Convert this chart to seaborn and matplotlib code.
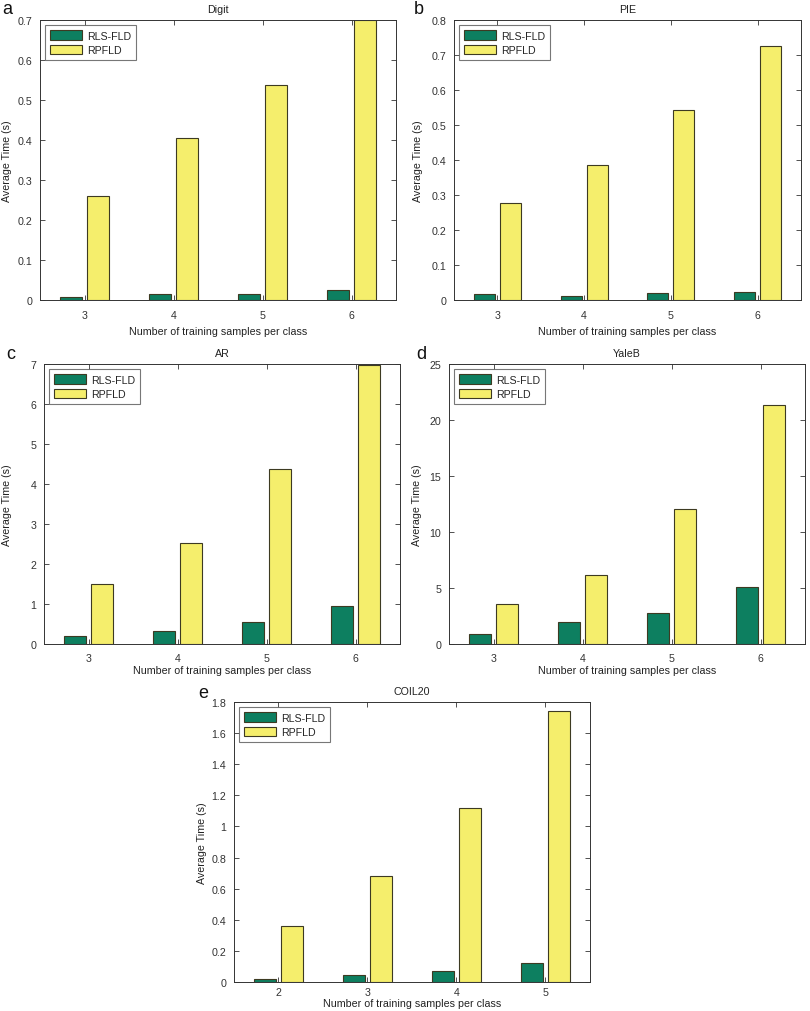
import matplotlib
matplotlib.use("Agg")
import matplotlib.pyplot as plt
import pandas as pd
import seaborn as sns
from matplotlib.ticker import FuncFormatter, MultipleLocator

methods = ["RLS-FLD", "RPFLD"]
titles = ["Digit", "PIE", "AR", "YaleB", "COIL20"]
letters = ["a", "b", "c", "d", "e"]

samples_abcd = ["3", "4", "5", "6"]
samples_e = ["2", "3", "4", "5"]

digit_rls = [0.008, 0.016, 0.016, 0.026]
digit_rp = [0.259, 0.406, 0.538, 0.70]
pie_rls = [0.016, 0.012, 0.020, 0.023]
pie_rp = [0.277, 0.385, 0.542, 0.726]
ar_rls = [0.20, 0.32, 0.56, 0.95]
ar_rp = [1.50, 2.53, 4.38, 6.98]
yaleb_rls = [0.85, 1.95, 2.80, 5.10]
yaleb_rp = [3.55, 6.15, 12.05, 21.35]
coil_rls = [0.018, 0.045, 0.070, 0.120]
coil_rp = [0.36, 0.68, 1.12, 1.74]

y_max = [0.7, 0.8, 7, 25, 1.8]
y_step = [0.1, 0.1, 1, 5, 0.2]

sns.set_style("ticks")
plt.rcParams["font.family"] = ["Liberation Sans", "DejaVu Sans"]

GREEN = "#0d7f60"
YELLOW = "#f5ee6c"
EDGE = "#3d3a22"
FS = 7.7

W, H = 810, 1012
fig = plt.figure(figsize=(W / 100, H / 100), dpi=100)

# axes boxes in pixels: left, top, right, bottom
boxes = [(40, 21, 396, 301), (454, 21, 801, 301),
         (44, 365, 400, 645), (449, 365, 805, 645),
         (234, 703, 590, 983)]
letter_pos = [(2, 10), (414, 10), (6, 355), (416, 355), (198, 693)]
tick_pad = [7.1, 7.1, 6.4, 6.4, 3.5]
label_pad = [4.7, 4.7, 1.8, 1.8, 1.1]
ylabel_x = [-0.08, -0.09, -0.09, -0.076, -0.076]

panels = [
    (samples_abcd, digit_rls, digit_rp),
    (samples_abcd, pie_rls, pie_rp),
    (samples_abcd, ar_rls, ar_rp),
    (samples_abcd, yaleb_rls, yaleb_rp),
    (samples_e, coil_rls, coil_rp),
]

for i, (cats, rls, rp) in enumerate(panels):
    l, t, r, b = boxes[i]
    ax = fig.add_axes([l / W, 1 - b / H, (r - l) / W, (b - t) / H])
    df = pd.DataFrame({
        "samples": cats * 2,
        "time": rls + rp,
        "method": [methods[0]] * 4 + [methods[1]] * 4,
    })
    sns.barplot(data=df, x="samples", y="time", hue="method", order=cats,
                hue_order=methods, palette=[GREEN, YELLOW], width=0.6, gap=0.2,
                edgecolor=EDGE, linewidth=0.8, saturation=1, ax=ax)
    ax.set_xlim(-0.5, 3.5)
    ax.set_ylim(0, y_max[i])
    ax.yaxis.set_major_locator(MultipleLocator(y_step[i]))
    ax.yaxis.set_major_formatter(FuncFormatter(lambda v, p: f"{round(v, 3):g}"))
    ax.set_xlabel("Number of training samples per class", fontsize=FS,
                  color="#222222", labelpad=label_pad[i])
    ax.set_ylabel("Average Time (s)", fontsize=FS, color="#222222")
    ax.yaxis.set_label_coords(ylabel_x[i], 0.5)
    ax.set_title(titles[i], fontsize=FS, color="#222222", pad=6)
    ax.tick_params(direction="in", length=3.5, width=0.6, labelsize=FS,
                   colors="#333333", top=True, right=True)
    ax.tick_params(axis="x", pad=tick_pad[i])
    ax.tick_params(axis="y", pad=5.5)
    for s in ax.spines.values():
        s.set_visible(True)
        s.set_linewidth(0.7)
        s.set_color("#333333")
    leg = ax.legend(loc="upper left", fontsize=FS, frameon=True, fancybox=False,
                    handlelength=3.0, handleheight=1.03, borderaxespad=0.47,
                    labelspacing=0.37, handletextpad=0.47, borderpad=0.47)
    leg.get_frame().set_edgecolor("#555555")
    leg.get_frame().set_linewidth(0.8)
    fig.text(letter_pos[i][0] / W, 1 - letter_pos[i][1] / H, letters[i],
             fontsize=13, va="center", ha="left", color="#111111")

fig.savefig("out.png", dpi=100, facecolor="white")
